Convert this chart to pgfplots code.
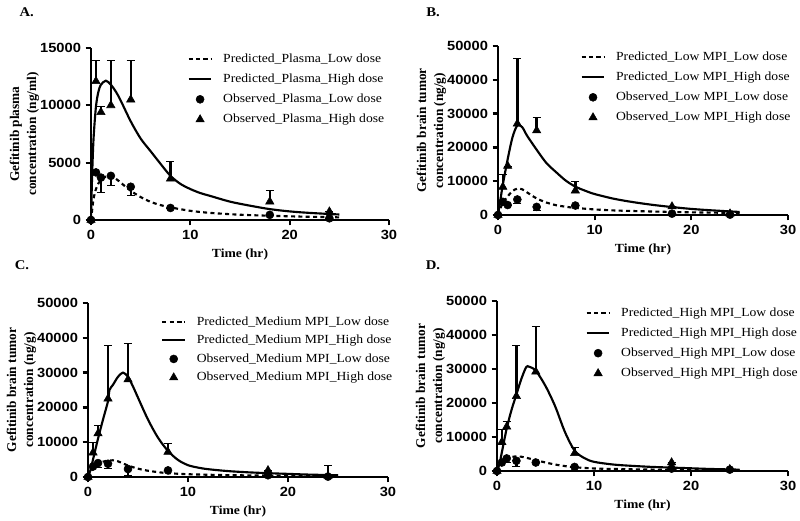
\documentclass[border=0pt]{standalone}
\usepackage{pgfplots}
\pgfplotsset{compat=1.18}
\usepackage{fontspec}
\setmainfont{Liberation Serif}[FakeStretch=1.1]
\setsansfont{Liberation Sans}[FakeStretch=1.1]
\newfontfamily\ylfamily{Liberation Serif}
\newcommand\ticklabfont{\sffamily\bfseries\fontsize{10}{12}\selectfont}
\newcommand\legfont{\rmfamily\fontsize{9.3}{11.3}\selectfont}
\newcommand\xlabfont{\rmfamily\bfseries\fontsize{9.3}{11}\selectfont}
\newcommand\ylabfont{\ylfamily\bfseries\fontsize{10}{12.75}\selectfont}
\newcommand\panfont{\rmfamily\bfseries\fontsize{10}{12}\selectfont}
\newcommand\legtxt[1]{\hspace{6pt}#1}

\pgfplotsset{
  prism/.style={
    scale only axis,
    xmin=0, xmax=30, ymin=0,
    axis x line*=bottom, axis y line*=left,
    axis line style={line width=1.7pt, black},
    every tick/.style={line width=1.7pt, black},
    tick align=outside, major tick length=4pt,
    xtick={0,10,20,30},
    scaled ticks=false,
    tick label style={font=\ticklabfont},
    /pgf/number format/1000 sep={},
    /pgf/number format/assume math mode=true,
    clip=false,
    xlabel={Time (hr)},
    xlabel style={font=\xlabfont},
    ylabel style={font=\ylabfont, align=center},
    ylabel shift=-6pt,
    legend cell align=left,
    legend style={draw=none, fill=none, font=\legfont, anchor=north west, row sep=3.2pt},
  },
  pred low/.style={black, line width=1.6pt, dash pattern=on 3pt off 2.5pt, smooth, no marks},
  pred high/.style={black, line width=1.6pt, solid, smooth, no marks},
  obs low/.style={black, only marks, mark=*, mark size=3pt,
    error bars/.cd, y dir=minus, y explicit,
    error bar style={line width=1.8pt, solid, mark size=3pt}},
  obs high/.style={black, only marks, mark=triangle*, mark size=3.6pt,
    error bars/.cd, y dir=plus, y explicit,
    error bar style={line width=1.8pt, solid, mark size=3pt}},
}

\begin{document}
\begin{tikzpicture}
\useasboundingbox (0,0) rectangle (600pt,-390.75pt);

% ---------------- Panel A ----------------
\node[font=\panfont] at (20pt,-9pt) {A.};
\begin{axis}[prism, at={(68.25pt,-165pt)}, anchor=south west,
  width=223.5pt, height=129pt, ymax=15000, ytick={0,5000,10000,15000},
  ylabel={Gefitinib plasma\\concentration (ng/ml)},
  legend style={at={(axis description cs:0.31,1.0)}}]
\addplot[pred low] coordinates {(0,0) (0.25,1800) (0.5,2700) (0.75,3200) (1,3500) (1.5,3780) (2,3800) (2.5,3600) (3,3250) (4,2550) (5,2000) (6,1580) (7,1300) (8,1100) (10,800) (12,620) (15,460) (18,370) (21,300) (25,230)};
\addlegendentry{\legtxt{Predicted\_Plasma\_Low dose}}
\addplot[pred high] coordinates {(0,0) (0.1,3500) (0.25,7000) (0.5,9900) (0.75,11200) (1,11800) (1.5,12150) (2,11800) (2.5,11200) (3,10400) (4,8600) (5,7100) (6,6000) (7,4900) (8,3850) (9,3150) (10,2700) (11,2350) (12,2100) (14,1600) (16,1250) (18,950) (20,750) (22,620) (25,480)};
\addlegendentry{\legtxt{Predicted\_Plasma\_High dose}}
\addplot[obs low] coordinates {(0,0) +- (0,0) (0.5,4150) +- (0,0) (1,3700) +- (0,1300) (2,3850) +- (0,850) (4,2900) +- (0,700) (8,1050) +- (0,0) (18,450) +- (0,0) (24,150) +- (0,0)};
\addlegendentry{\legtxt{Observed\_Plasma\_Low dose}}
\addplot[obs high] coordinates {(0,0) +- (0,0) (0.5,12100) +- (0,1800) (1,9400) +- (0,550) (2,10000) +- (0,3900) (4,10500) +- (0,3450) (8,3600) +- (0,1550) (18,1600) +- (0,950) (24,730) +- (0,0)};
\addlegendentry{\legtxt{Observed\_Plasma\_High dose}}
\end{axis}

% ---------------- Panel B ----------------
\node[font=\panfont] at (324.75pt,-9pt) {B.};
\begin{axis}[prism, at={(373.5pt,-161.25pt)}, anchor=south west,
  width=217.5pt, height=126.75pt, ymax=50000, ytick={0,10000,20000,30000,40000,50000},
  ylabel={Gefitinib brain tumor\\concentration (ng/g)},
  legend style={at={(axis description cs:0.27,1.0)}}]
\addplot[pred low] coordinates {(0,0) (0.25,2000) (0.5,3500) (1,5500) (1.5,7100) (2,7800) (2.5,7600) (3,6700) (4,4900) (5,3700) (6,2900) (7,2450) (8,2100) (10,1650) (12,1350) (15,1100) (18,900) (21,750) (25,600)};
\addlegendentry{\legtxt{Predicted\_Low MPI\_Low dose}}
\addplot[pred high] coordinates {(0,0) (0.25,4500) (0.5,9000) (1,16500) (1.5,23000) (2,26500) (2.5,26000) (3,23500) (4,19300) (5,15400) (6,12700) (7,10200) (8,8400) (9,7200) (10,6200) (12,4800) (14,3800) (16,3000) (18,2350) (20,1800) (22,1400) (25,900)};
\addlegendentry{\legtxt{Predicted\_Low MPI\_High dose}}
\addplot[obs low] coordinates {(0,0) +- (0,0) (0.5,3900) +- (0,600) (1,2950) +- (0,0) (2,4600) +- (0,1100) (4,2400) +- (0,900) (8,2800) +- (0,0) (18,400) +- (0,0) (24,100) +- (0,0)};
\addlegendentry{\legtxt{Observed\_Low MPI\_Low dose}}
\addplot[obs high] coordinates {(0,0) +- (0,0) (0.5,8300) +- (0,3700) (1,14500) +- (0,0) (2,27000) +- (0,19400) (4,25000) +- (0,3800) (8,7200) +- (0,2800) (18,2500) +- (0,0) (24,400) +- (0,0)};
\addlegendentry{\legtxt{Observed\_Low MPI\_High dose}}
\end{axis}

% ---------------- Panel C ----------------
\node[font=\panfont] at (16.5pt,-198.75pt) {C.};
\begin{axis}[prism, at={(66pt,-357.75pt)}, anchor=south west,
  width=225pt, height=130.5pt, ymax=50000, ytick={0,10000,20000,30000,40000,50000},
  ylabel={Gefitinib brain tumor\\concentration (ng/g)},
  legend style={at={(axis description cs:0.23,0.955)}, row sep=2pt}]
\addplot[pred low] coordinates {(0,0) (0.25,1500) (0.5,2600) (1,3800) (1.5,4400) (2,4700) (2.5,4800) (3,4500) (4,3300) (5,2400) (6,1800) (7,1400) (8,1100) (10,800) (12,650) (15,500) (18,420) (21,350) (25,300)};
\addlegendentry{\legtxt{Predicted\_Medium MPI\_Low dose}}
\addplot[pred high] coordinates {(0,0) (0.25,2000) (0.5,5000) (1,11000) (1.5,16500) (2,21800) (2.15,25000) (2.5,26500) (3,28800) (3.5,30000) (4,28800) (4.5,26000) (5,22800) (6,16500) (7,11300) (8,7500) (9,4900) (10,3400) (11,2700) (12,2250) (14,1700) (16,1350) (18,1100) (20,900) (22,700) (25,500)};
\addlegendentry{\legtxt{Predicted\_Medium MPI\_High dose}}
\addplot[obs low] coordinates {(0,0) +- (0,0) (0.5,3000) +- (0,0) (1,4000) +- (0,1200) (2,3800) +- (0,1400) (4,2300) +- (0,1800) (8,1900) +- (0,0) (18,500) +- (0,0) (24,100) +- (0,0)};
\addlegendentry{\legtxt{Observed\_Medium MPI\_Low dose}}
\addplot[obs high] coordinates {(0,0) +- (0,0) (0.5,7000) +- (0,2900) (1,12500) +- (0,2500) (2,22500) +- (0,15500) (4,28000) +- (0,10500) (8,7200) +- (0,2500) (18,1900) +- (0,0) (24,300) +- (0,3200)};
\addlegendentry{\legtxt{Observed\_Medium MPI\_High dose}}
\end{axis}

% ---------------- Panel D ----------------
\node[font=\panfont] at (324.75pt,-198.75pt) {D.};
\begin{axis}[prism, at={(372.75pt,-353.25pt)}, anchor=south west,
  width=218.25pt, height=127.5pt, ymax=50000, ytick={0,10000,20000,30000,40000,50000},
  ylabel={Gefitinib brain tumor\\concentration (ng/g)},
  legend style={at={(axis description cs:0.29,0.995)}}]
\addplot[pred low] coordinates {(0,0) (0.25,1500) (0.5,2500) (1,3600) (1.5,4100) (2,4300) (2.5,4200) (3,3900) (4,3200) (5,2500) (6,1900) (7,1450) (8,1100) (10,750) (12,600) (15,450) (18,380) (21,320) (25,250)};
\addlegendentry{\legtxt{Predicted\_High MPI\_Low dose}}
\addplot[pred high] coordinates {(0,0) (0.25,2000) (0.5,5500) (1,12500) (1.5,18000) (2,22500) (2.5,27000) (3,30500) (3.3,30700) (4,29500) (5,25000) (6,19000) (7,11500) (8,6000) (9,3800) (10,2700) (12,1900) (14,1500) (16,1200) (18,1000) (20,800) (22,600) (25,400)};
\addlegendentry{\legtxt{Predicted\_High MPI\_High dose}}
\addplot[obs low] coordinates {(0,0) +- (0,0) (0.5,2500) +- (0,0) (1,3700) +- (0,1200) (2,3000) +- (0,1500) (4,2500) +- (0,0) (8,1200) +- (0,0) (18,700) +- (0,0) (24,400) +- (0,0)};
\addlegendentry{\legtxt{Observed\_High MPI\_Low dose}}
\addplot[obs high] coordinates {(0,0) +- (0,0) (0.5,8500) +- (0,3800) (1,13000) +- (0,1700) (2,22000) +- (0,15100) (4,29200) +- (0,13300) (8,5200) +- (0,1700) (18,2500) +- (0,0) (24,500) +- (0,0)};
\addlegendentry{\legtxt{Observed\_High MPI\_High dose}}
\end{axis}
\end{tikzpicture}
\end{document}
